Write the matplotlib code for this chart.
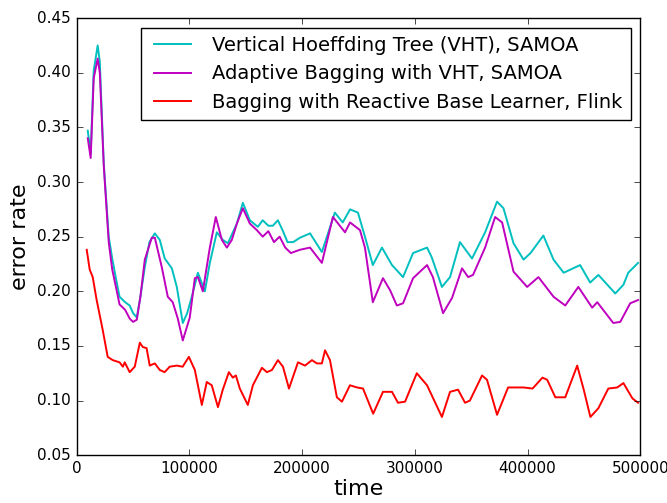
import numpy as np
import matplotlib
matplotlib.use("Agg")
import matplotlib.pyplot as plt

# values (time, error rate)
vht_t = [9800, 12400, 15100, 18600, 20500, 24000, 28400, 31500, 34600, 38000,
         43000, 47000, 50000, 53300, 56500, 60400, 64500, 69300, 73700, 78100,
         84400, 88800, 94100, 98000, 102100, 107500, 113700, 118100, 124300, 129600,
         134100, 142100, 147400, 153600, 160700, 165000, 170000, 174000, 178500, 183000,
         187000, 192000, 198000,
         207000, 217500, 229000, 236000, 242500, 249500, 255700, 262700, 270800, 279700,
         289500, 298400, 310800, 315000, 324000, 331200, 340000, 350700, 362300, 372900,
         378600, 387500, 396400, 402600, 414000, 423000, 432000, 446600, 455500, 462800,
         477800, 485000, 489300, 498000]
vht_err = [0.347, 0.326, 0.402, 0.425, 0.41, 0.317, 0.25, 0.23, 0.213, 0.195,
           0.19, 0.187, 0.18, 0.176, 0.195, 0.222, 0.245, 0.253, 0.247, 0.23,
           0.221, 0.204, 0.171, 0.18, 0.195, 0.217, 0.2, 0.226, 0.254, 0.247,
           0.244, 0.262, 0.281, 0.265, 0.259, 0.265, 0.26, 0.26, 0.265, 0.255,
           0.245, 0.245, 0.249,
           0.253, 0.236, 0.272, 0.263, 0.275, 0.272, 0.25, 0.224, 0.24, 0.224,
           0.213, 0.235, 0.24, 0.231, 0.204, 0.213, 0.245, 0.23, 0.254, 0.282,
           0.276, 0.244, 0.229, 0.235, 0.251, 0.229, 0.217, 0.224, 0.208, 0.215,
           0.198, 0.206, 0.217, 0.226]

bag_t = [9800, 12400, 15100, 18600, 20500, 24000, 28400, 31500, 34600, 38000,
         43000, 47000, 50000, 53300, 56500, 60400, 66600, 69300, 75500, 80800,
         85200, 89700, 94100, 100300, 104800, 107500, 111900, 118100, 123400, 128800,
         133200, 137600, 142100, 147400, 153600, 159800, 165000, 170000, 175000, 180000,
         185000, 190000, 198000,
         207000, 217500, 227300, 238000, 242500, 251300, 255700, 262700, 271700, 278000,
         284000, 289500, 298400, 310800, 316000, 325000, 333000, 341800, 347300, 351600,
         362300, 371200, 377400, 387500, 399600, 409600, 423000, 433400, 445000, 457300,
         461800, 476000, 482200, 491000, 498000]
bag_err = [0.34, 0.322, 0.395, 0.413, 0.4, 0.315, 0.245, 0.22, 0.205, 0.188,
           0.183, 0.175, 0.172, 0.174, 0.195, 0.229, 0.249, 0.249, 0.222, 0.195,
           0.19, 0.175, 0.155, 0.176, 0.212, 0.213, 0.2, 0.24, 0.268, 0.247,
           0.24, 0.247, 0.262, 0.276, 0.262, 0.256, 0.25, 0.255, 0.245, 0.25,
           0.24, 0.235, 0.238,
           0.24, 0.226, 0.268, 0.254, 0.263, 0.256, 0.24, 0.19, 0.212, 0.201,
           0.187, 0.189, 0.212, 0.224, 0.213, 0.18, 0.194, 0.221, 0.213, 0.215,
           0.24, 0.268, 0.263, 0.218, 0.204, 0.213, 0.195, 0.187, 0.204, 0.185,
           0.19, 0.171, 0.172, 0.189, 0.192]

flink_t = [8900, 11500, 14200, 17700, 23000, 27500, 32000, 38000, 41000, 42600, 47000,
           51500, 56000, 58600, 62000, 64800, 69300, 73700, 78000, 82500, 88800,
           94000, 99500, 104800, 111000, 115400, 119800, 125300, 129600, 135000, 138500,
           141200, 144700, 151800, 156300, 164300, 168700, 173200, 178500, 183000, 188300,
           196300, 202500, 208700, 213100, 217500, 220300, 224700, 230800, 235300, 242400,
           248700, 254000, 263000, 271700, 279700, 285000, 291300, 301700, 310800, 324000,
           331200, 338300, 344500, 348800, 359600, 364000, 372900, 382700, 390700, 396400,
           404400, 413200, 417400, 424600, 433400, 444000, 449800, 455700, 462800, 471600,
           479500, 485000, 493000, 498000]
flink_err = [0.238, 0.22, 0.213, 0.192, 0.165, 0.14, 0.137, 0.135, 0.131, 0.135, 0.126,
             0.131, 0.153, 0.149, 0.148, 0.132, 0.134, 0.128, 0.126, 0.131, 0.132,
             0.131, 0.14, 0.128, 0.096, 0.117, 0.114, 0.094, 0.11, 0.126, 0.121,
             0.123, 0.111, 0.096, 0.114, 0.13, 0.126, 0.128, 0.137, 0.131, 0.111,
             0.135, 0.132, 0.137, 0.134, 0.134, 0.146, 0.137, 0.103, 0.099, 0.114,
             0.112, 0.111, 0.088, 0.108, 0.108, 0.098, 0.099, 0.125, 0.114, 0.085,
             0.108, 0.11, 0.098, 0.1, 0.123, 0.119, 0.087, 0.112, 0.112, 0.112,
             0.111, 0.121, 0.119, 0.103, 0.103, 0.132, 0.11, 0.085, 0.093, 0.111,
             0.112, 0.116, 0.102, 0.098]

labels = ["Vertical Hoeffding Tree (VHT), SAMOA",
          "Adaptive Bagging with VHT, SAMOA",
          "Bagging with Reactive Base Learner, Flink"]

plt.style.use("classic")
fig = plt.figure(figsize=(6.67, 5.03), dpi=100, facecolor="white")
ax = fig.add_axes([0.115, 0.095, 0.845, 0.869])

ax.plot(vht_t, vht_err, color="c", lw=1.4, label=labels[0])
ax.plot(bag_t, bag_err, color="m", lw=1.4, label=labels[1])
ax.plot(flink_t, flink_err, color="r", lw=1.4, label=labels[2])

ax.set_xlim(0, 500000)
ax.set_ylim(0.05, 0.45)
ax.set_xticks(np.arange(0, 500001, 100000))
ax.set_yticks(np.arange(0.05, 0.451, 0.05))
ax.tick_params(labelsize=11)
ax.set_xlabel("time", fontsize=16, labelpad=2)
ax.set_ylabel("error rate", fontsize=16)

ax.legend(loc="upper right", fontsize=14, borderaxespad=0.5, handlelength=2.5)

fig.savefig("out.png", dpi=100, facecolor="white")
